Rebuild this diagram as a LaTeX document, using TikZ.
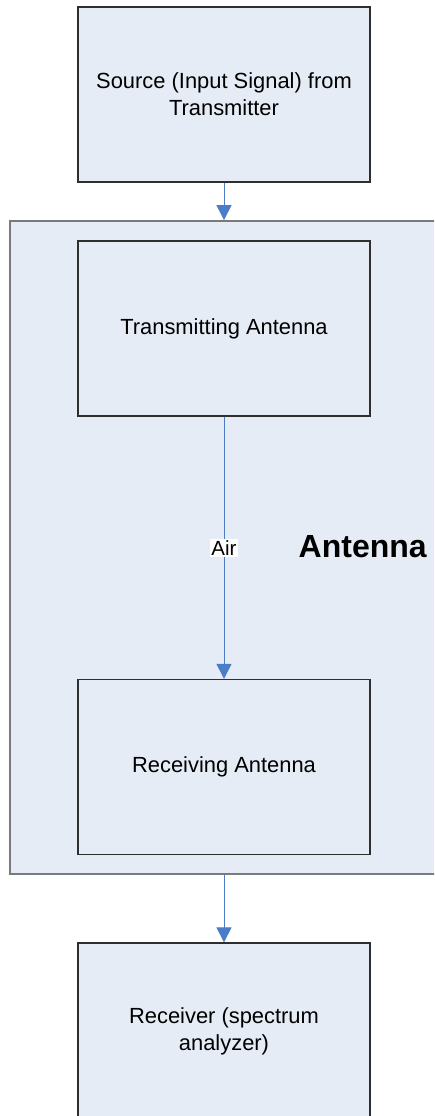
\documentclass[tikz,border=0pt]{standalone}
\usepackage{fontspec}
\setmainfont{Liberation Sans}
\usetikzlibrary{arrows.meta}
\definecolor{boxfill}{HTML}{E6ECF6}
\definecolor{arrblue}{HTML}{4A7CC7}
\definecolor{boxline}{HTML}{2E2E2E}
\definecolor{contline}{HTML}{7A7A7A}
\tikzset{
  blk/.style={draw=boxline, line width=1.3pt, fill=boxfill, minimum width=292pt, minimum height=175pt, inner sep=0pt, align=center, font=\fontsize{21.9}{27}\selectfont},
  cont/.style={draw=contline, line width=1.8pt, fill=boxfill, minimum width=480pt, minimum height=653pt, inner sep=0pt},
  arr/.style={draw=arrblue, line width=1pt, -{Triangle[length=15pt,width=15pt]}},
  lbl/.style={fill=white, inner sep=1.5pt, font=\fontsize{20.5}{24}\selectfont},
  big/.style={font=\fontsize{32}{38}\selectfont\bfseries}
}
\begin{document}
\begin{tikzpicture}[x=1pt,y=-1pt]
\useasboundingbox (0,0) rectangle (434,1116);
\clip (0,0) rectangle (434,1116);
\fill[white] (0,0) rectangle (434,1116);
\node[cont] (ant) at (249.7,547.5) {};
\node[blk] (src) at (224,94.5) {Source (Input Signal) from\\Transmitter};
\node[blk] (tx) at (224,328.5) {Transmitting Antenna};
\node[blk] (rx) at (224,767) {Receiving Antenna};
\node[blk, minimum height=176pt] (rcv) at (224,1031) {Receiver (spectrum\\analyzer)};
\node[big] (title) at (362.7,547) {Antenna};
\draw[arr] (src.south) -- (src.south |- ant.north);
\draw[arr] (tx.south) -- node[lbl] (air) {Air} (rx.north);
\draw[arr] (rx.south |- ant.south) -- (rcv.north);
\end{tikzpicture}
\end{document}
